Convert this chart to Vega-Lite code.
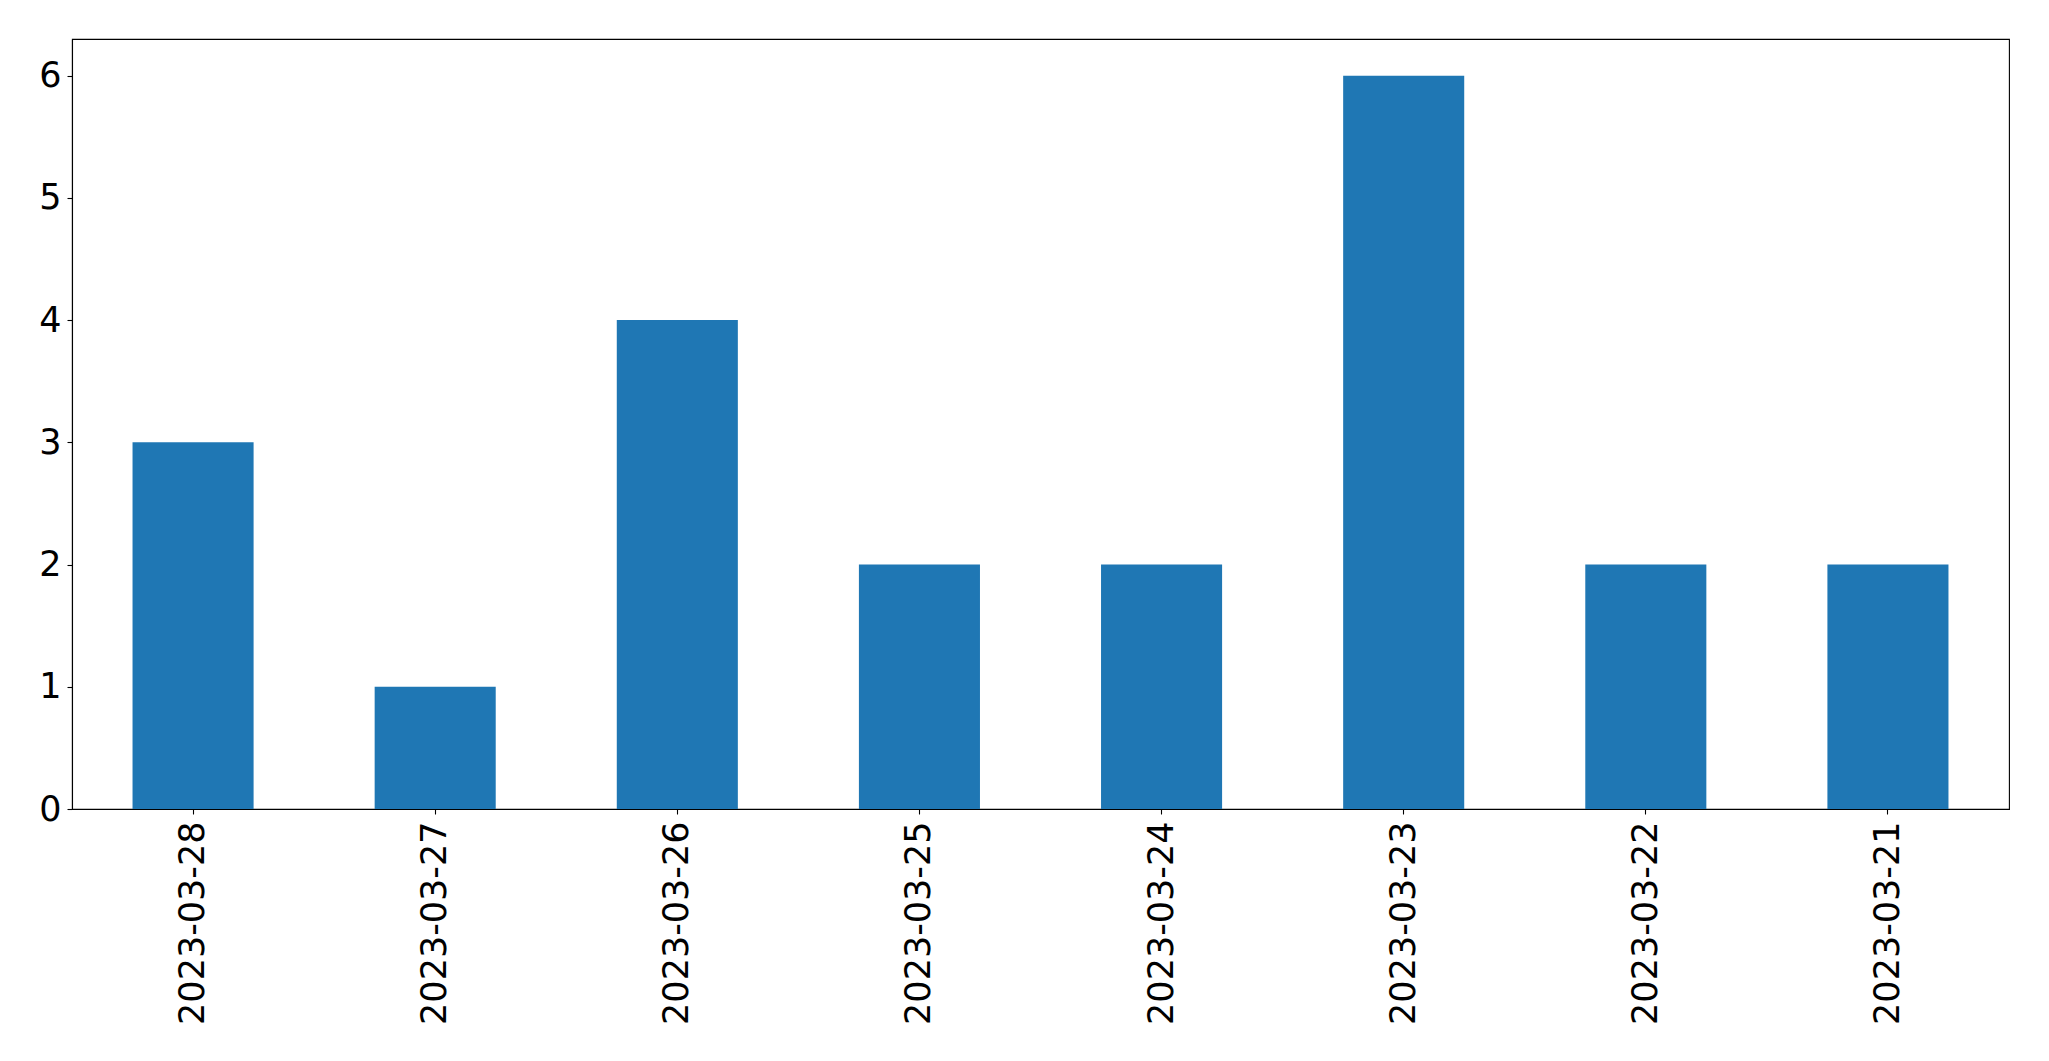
{
  "$schema": "https://vega.github.io/schema/vega-lite/v6.json",
  "autosize": "none",
  "width": 1937,
  "height": 770,
  "padding": {"left": 72, "top": 39, "right": 40, "bottom": 252},
  "background": "white",
  "config": {
    "view": {"stroke": "black", "strokeWidth": 1.1},
    "font": "DejaVu Sans",
    "axis": {
      "grid": false,
      "domainColor": "black",
      "domainWidth": 1.1,
      "tickColor": "black",
      "tickWidth": 1.1,
      "tickSize": 5,
      "labelFont": "DejaVu Sans",
      "labelFontSize": 35,
      "labelColor": "black",
      "labelLimit": 0,
      "title": null
    }
  },
  "data": {
    "values": [
      {"date": "2023-03-28", "count": 3},
      {"date": "2023-03-27", "count": 1},
      {"date": "2023-03-26", "count": 4},
      {"date": "2023-03-25", "count": 2},
      {"date": "2023-03-24", "count": 2},
      {"date": "2023-03-23", "count": 6},
      {"date": "2023-03-22", "count": 2},
      {"date": "2023-03-21", "count": 2}
    ]
  },
  "mark": {"type": "bar", "color": "#1f77b4"},
  "encoding": {
    "x": {
      "field": "date",
      "type": "nominal",
      "sort": null,
      "scale": {"paddingInner": 0.5, "paddingOuter": 0.25},
      "axis": {"labelAngle": -90, "labelPadding": 7, "labelBaseline": "middle", "labelAlign": "right", "labelLimit": 0}
    },
    "y": {
      "field": "count",
      "type": "quantitative",
      "scale": {"domain": [0, 6.3], "nice": false},
      "axis": {"values": [0, 1, 2, 3, 4, 5, 6], "labelPadding": 6, "format": "d"}
    }
  }
}
